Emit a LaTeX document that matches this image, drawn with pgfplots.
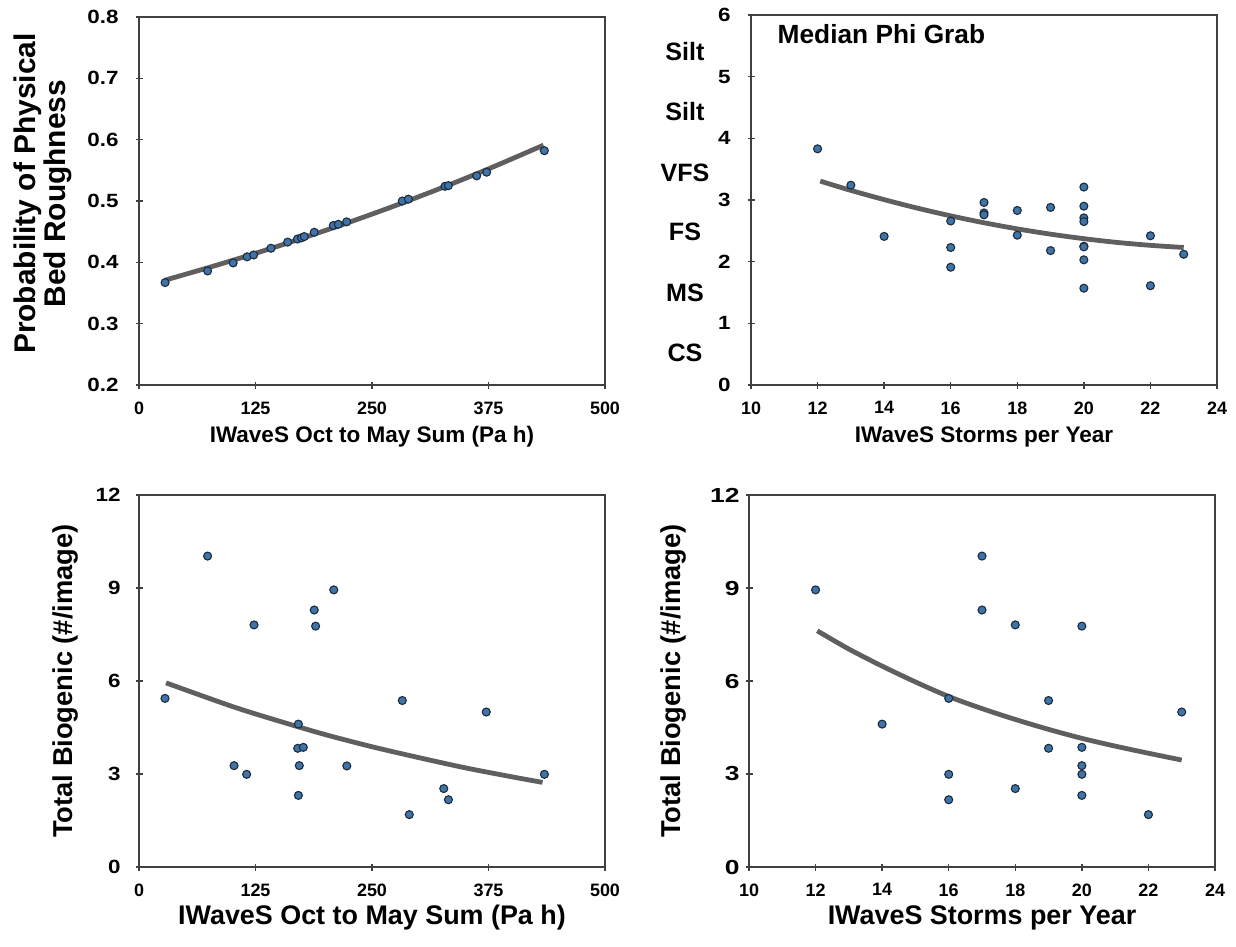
\documentclass[border=0pt]{standalone}
\usepackage{fontspec}
\setmainfont{Liberation Sans}
\newfontfamily\wideb[FakeStretch=1.17]{Liberation Sans}
\newfontfamily\widerb[FakeStretch=1.3]{Liberation Sans}
\usepackage{pgfplots}
\pgfplotsset{compat=1.18}
\definecolor{dotfill}{HTML}{3F74A8}
\definecolor{dotline}{HTML}{1B2B3C}
\definecolor{trend}{HTML}{5F5F5F}
\definecolor{frame}{HTML}{404040}

\newcommand{\fs}[1]{\bfseries\fontsize{#1}{#1}\selectfont}

\pgfplotsset{
  panel/.style={
    scale only axis, width=233bp, anchor=south west,
    axis line style={frame, line width=0.9bp},
    xtick pos=bottom, ytick pos=left, tick align=center,
    major tick length=3.5bp, tick style={frame, line width=0.7bp},
    /pgf/number format/assume math mode=true,
    xticklabel style={font=\fs{9}, yshift=-3bp},
    yticklabel style={font=\wideb\fs{9.6}, xshift=-4bp},
    clip=false,
  },
  dots/.style={only marks, mark=*, mark size=2bp,
    mark options={fill=dotfill, draw=dotline, line width=0.55bp}},
  fit/.style={no marks, smooth, trend, line width=2.4bp},
}
\tikzset{cat/.style={font=\fs{12.6}, anchor=center, xshift=-33bp}}

\begin{document}
\begin{tikzpicture}
\useasboundingbox (0,0) rectangle (618bp,-473.5bp);

% top left
\begin{axis}[panel, at={(69.5bp,-192.5bp)}, height=184bp,
  xmin=0, xmax=500, ymin=0.2, ymax=0.8,
  xtick={0,125,250,375,500},
  ytick={0.2,0.3,0.4,0.5,0.6,0.7,0.8},
  yticklabels={0.2,0.3,0.4,0.5,0.6,0.7,0.8},
  yticklabel style={xshift=-1bp},
  xlabel={IWaveS Oct to May Sum (Pa h)},
  xlabel style={font=\fs{11.3}, at={(axis description cs:0.5,-0.141)}, anchor=center},
  ylabel={Probability of Physical\\Bed Roughness},
  ylabel style={font=\bfseries\fontsize{15}{13.5}\selectfont, align=center,
    at={(axis description cs:-0.206,0.52)}, anchor=center}]
\addplot[fit] coordinates {(28,0.371) (75,0.3916) (125,0.4147) (175,0.4392) (225,0.4651)
  (275,0.4925) (325,0.5216) (375,0.5524) (434,0.591)};
\addplot[dots] coordinates {
  (28,0.367) (73.6,0.386) (101,0.399) (116,0.409) (123,0.412) (141.6,0.423)
  (159.5,0.433) (170,0.438) (174.4,0.440) (177.3,0.442) (188,0.449)
  (208.5,0.460) (213.8,0.462) (222.8,0.466) (282.5,0.500) (289,0.503)
  (328.3,0.524) (331.9,0.525) (362.3,0.541) (373,0.547) (434.9,0.582)};
\end{axis}

% top right
\begin{axis}[panel, at={(375.5bp,-192.5bp)}, height=185bp,
  xmin=10, xmax=24, ymin=0, ymax=6,
  xtick={10,12,...,24}, ytick={0,1,...,6},
  yticklabel style={xshift=-1bp},
  xlabel={IWaveS Storms per Year},
  xlabel style={font=\fs{11.3}, at={(axis description cs:0.5,-0.14)}, anchor=center}]
\addplot[fit] coordinates {(12.08,3.306) (13,3.156) (14,3.006) (15,2.868) (16,2.743)
  (17,2.631) (18,2.532) (19,2.446) (20,2.373) (21,2.312) (22,2.265) (23,2.23)};
\addplot[dots] coordinates {
  (12,3.83) (13,3.24) (14,2.41) (16,2.66) (16,2.23) (16,1.91)
  (17,2.96) (17,2.79) (17,2.76) (18,2.83) (18,2.43) (19,2.88) (19,2.18)
  (20,3.21) (20,2.90) (20,2.71) (20,2.65) (20,2.25) (20,2.24) (20,2.03) (20,1.57)
  (22,2.42) (22,1.61) (23,2.12)};
\node[font=\fs{13.2}, anchor=base west] at ([xshift=9.8bp,yshift=-14bp]rel axis cs:0,1) {Median Phi Grab};
\node[cat] at (axis cs:10,5.40) {Silt};
\node[cat] at (axis cs:10,4.43) {Silt};
\node[cat] at (axis cs:10,3.44) {VFS};
\node[cat] at (axis cs:10,2.49) {FS};
\node[cat] at (axis cs:10,1.49) {MS};
\node[cat] at (axis cs:10,0.52) {CS};
\end{axis}

% bottom left
\begin{axis}[panel, at={(69.5bp,-433.5bp)}, height=186bp,
  xmin=0, xmax=500, ymin=0, ymax=12,
  xtick={0,125,250,375,500}, ytick={0,3,...,12},
  xlabel={IWaveS Oct to May Sum (Pa h)},
  xlabel style={font=\fs{13.5}, at={(axis description cs:0.5,-0.137)}, anchor=center},
  ylabel={Total Biogenic (\#/image)},
  ylabel style={font=\fs{13.7}, at={(axis description cs:-0.157,0.5)}, anchor=center}]
\addplot[fit] coordinates {(29,5.94) (100,5.18) (150,4.71) (200,4.27) (250,3.88)
  (300,3.53) (350,3.20) (400,2.91) (433,2.73)};
\addplot[dots] coordinates {
  (27.9,5.44) (73.6,10.03) (102,3.27) (115.5,2.99) (123.4,7.81) (171,4.61)
  (170.3,3.83) (176.3,3.86) (172,3.27) (171,2.31) (188,8.29) (189.5,7.77)
  (209,8.94) (223,3.26) (282.5,5.37) (290,1.69) (327,2.53) (332,2.17)
  (372.6,5.0) (435,2.99)};
\end{axis}

% bottom right
\begin{axis}[panel, at={(374.5bp,-433.5bp)}, height=186bp,
  xmin=10, xmax=24, ymin=0, ymax=12,
  xtick={10,12,...,24}, ytick={0,3,...,12},
  yticklabel style={font=\widerb\fs{10.2}, xshift=4.5bp},
  xlabel={IWaveS Storms per Year},
  xlabel style={font=\fs{13.5}, at={(axis description cs:0.5,-0.137)}, anchor=center},
  ylabel={Total Biogenic (\#/image)},
  ylabel style={font=\fs{13.7}, at={(axis description cs:-0.161,0.5)}, anchor=center}]
\addplot[fit] coordinates {(12.05,7.62) (13,7.03) (14,6.48) (15,5.97) (16,5.5) (17,5.11)
  (18,4.76) (19,4.44) (20,4.15) (21,3.9) (22,3.67) (23,3.45)};
\addplot[dots] coordinates {
  (12,8.94) (14,4.61) (16,5.44) (16,2.99) (16,2.17) (17,10.03) (17,8.29)
  (18,7.81) (18,2.53) (19,5.37) (19,3.83) (20,7.77) (20,3.86) (20,3.27)
  (20,2.99) (20,2.31) (22,1.69) (23,5.0)};
\end{axis}
\end{tikzpicture}
\end{document}
